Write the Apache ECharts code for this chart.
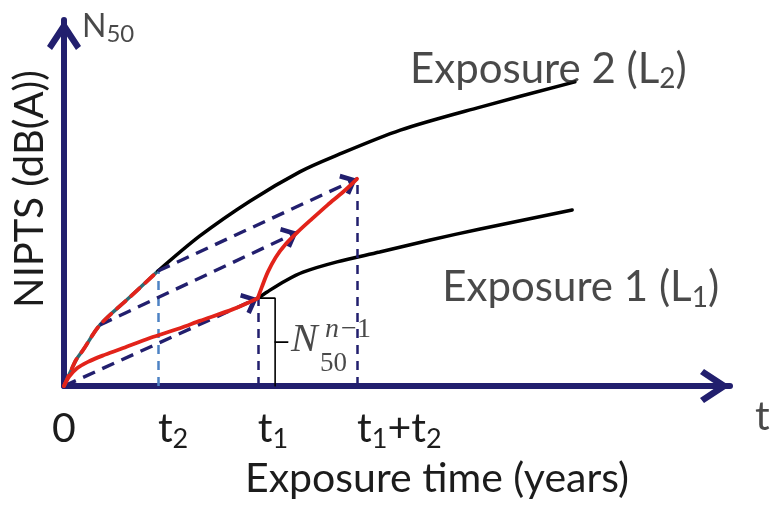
<!DOCTYPE html>
<html><head><meta charset="utf-8">
<script src="https://cdn.jsdelivr.net/npm/echarts@6/dist/echarts.min.js"></script>
<style>html,body{margin:0;padding:0;background:#fff}#c{width:775px;height:506px}</style>
</head><body><div id="c"></div>
<script>
// ---------- data (schematic units: time axis 0..100, NIPTS axis 0..100) ----------
const tickValues = [0, 14.1, 29.1, 44.0];
const tickLabels = ['0', 't2', 't1', 't1+t2'];
const exposure2 = [[0,0],[0.9,3.6],[1.8,7.1],[2.85,9.8],[5.4,16.7],[9.9,24.3],[14.1,31.4],[20.4,41.0],[27.9,50.5],[35.4,58.5],[40.4,62.6],[50.5,69.9],[62.5,76.2],[76.7,83.1]];
const exposure1Early = [[0,0],[0.8,2.6],[2.0,4.9],[3.6,6.6],[5.8,8.3],[8.5,10.1],[12.9,13.1],[17.4,15.8],[20.4,17.8],[25.4,21.0],[29.1,24.0]];
const exposure1Late = [[29.1,24.0],[30.5,25.7],[33.2,28.7],[35.9,31.1],[41.0,33.9],[47.4,36.6],[55.0,39.9],[62.5,42.9],[76.3,48.1]];
const shiftedCurve = [[29.1,24.0],[29.7,27.0],[30.6,31.1],[31.8,35.2],[33.3,38.8],[35.1,42.1],[37.2,45.6],[39.6,49.5],[41.9,53.0],[44.0,56.6]];
const shiftArrows = [[[0,0],[29.1,24.0]],[[5.4,16.7],[35.1,42.1]],[[14.1,31.4],[44.0,56.6]]];
const t2Point = [14.1, 31.4];
const t1Point = [29.1, 24.0];
const t1t2Point = [44.0, 56.6];
const n50Prev = 24.0;

// ---------- styles ----------
const NAVY = '#221f6e', RED = '#e2231a', TEAL = '#2e6c74', LIGHTBLUE = '#4d82c4', TXT = '#1c1c1c';
const FONT = 'Lato', SERIF = 'Liberation Serif';
// chevrons pointing up, tip placed at the centre of the path box
const chevronBig = 'path://M17,0 L34,26 L29,30 L17,12 L5,30 L0,26 Z M17,-30 L17,-30 Z';
const chevronSmall = 'path://M11,0 L22,13 L18.5,16 L11,7 L3.5,16 L0,13 Z M11,-16 L11,-16 Z';
const bracketX = 31.7, bracketTick = 1.9;

const exp2Early = exposure2.filter(p => p[0] <= t2Point[0]);
const exp2Late = exposure2.filter(p => p[0] >= t2Point[0]);

function richTick(s) {
  if (!/\d$/.test(s) || s === '0') return '{m|' + s + '}';
  return s.replace(/([^0-9]+)(\d)/g, (m, a, d) => '{m|' + a + '}{s|' + d + '}');
}

const noLabel = {show: false};
function lineSeries(data, color, width, type, z) {
  return {type: 'line', data: data, smooth: 0.3, showSymbol: false, symbol: 'none', silent: true,
    lineStyle: {color: color, width: width, type: type || 'solid', cap: 'round'}, z: z || 3, animation: false};
}
function markLines(pairs, color, width, dash, sym) {
  return {type: 'line', data: [], silent: true, animation: false, z: 2,
    markLine: {silent: true, animation: false, symbol: ['none', sym || 'none'], symbolSize: [23, 32],
      label: noLabel, emphasis: {disabled: true},
      lineStyle: {color: color, width: width, type: dash, opacity: 1},
      data: pairs.map(p => [{coord: p[0]}, {coord: p[1]}])}};
}
function annot(pos, formatter, rich, labelExtra) {
  return {type: 'scatter', symbolSize: 0, silent: true, animation: false, z: 10,
    data: [{value: pos}],
    label: Object.assign({show: true, position: 'right', formatter: formatter, rich: rich,
      color: TXT, fontFamily: FONT}, labelExtra)};
}
const bigRich = {
  a: {fontFamily: FONT, fontSize: 42, lineHeight: 48, verticalAlign: 'middle', color: TXT},
  s: {fontFamily: FONT, fontSize: 28, lineHeight: 24, verticalAlign: 'bottom', color: TXT}
};

const chart = echarts.init(document.getElementById('c'), null, {renderer: 'canvas'});
chart.setOption({
  backgroundColor: '#ffffff',
  animation: false,
  grid: {left: 64, right: 45, top: 20, bottom: 120, containLabel: false, outerBoundsMode: 'none'},
  xAxis: {
    type: 'value', min: 0, max: 100,
    axisLine: {show: true, onZero: false, symbol: ['none', chevronBig], symbolSize: [34, 60],
      lineStyle: {color: NAVY, width: 6}},
    axisTick: {show: false}, splitLine: {show: false},
    axisLabel: {
      customValues: tickValues, margin: 19, color: TXT, fontFamily: FONT, fontSize: 41, lineHeight: 48,
      align: 'left', alignMinLabel: 'center', hideOverlap: false, showMinLabel: true,
      formatter: v => { const i = tickValues.findIndex(t => Math.abs(t - v) < 1e-6); return i < 0 ? '' : richTick(tickLabels[i]); },
      rich: {
        m: {fontFamily: FONT, fontSize: 41, lineHeight: 48, verticalAlign: 'middle', color: TXT},
        s: {fontFamily: FONT, fontSize: 27, lineHeight: 23, verticalAlign: 'bottom', color: TXT}
      }
    },
    name: 'Exposure time (years)', nameLocation: 'middle', nameGap: 70,
    nameTextStyle: {fontFamily: FONT, fontSize: 41, color: TXT, padding: [0, 0, 0, 80]}
  },
  yAxis: {
    type: 'value', min: 0, max: 100,
    axisLine: {show: true, onZero: false, symbol: ['none', chevronBig], symbolSize: [34, 60],
      lineStyle: {color: NAVY, width: 6}},
    axisTick: {show: false}, splitLine: {show: false}, axisLabel: {show: false},
    name: 'NIPTS (dB(A))', nameLocation: 'middle', nameRotate: 90, nameGap: 14,
    nameTextStyle: {fontFamily: FONT, fontSize: 40, color: TXT, padding: [0, 0, 0, 28]}
  },
  series: [
    // vertical guides
    markLines([[[t2Point[0], 0], t2Point]], LIGHTBLUE, 2.5, [9, 7]),
    markLines([[[t1Point[0], 0], t1Point], [[t1t2Point[0], 0], t1t2Point]], NAVY, 2.5, [9, 7]),
    // shift arrows
    markLines(shiftArrows, NAVY, 3.4, [13, 8], chevronSmall),
    // curves
    lineSeries(exp2Early, TEAL, 3.5, 'solid', 4),
    lineSeries(exp2Early, RED, 3.8, [11, 8], 5),
    lineSeries(exp2Late, '#000000', 3.5, 'solid', 4),
    lineSeries(exposure1Early, RED, 3.8, 'solid', 5),
    lineSeries(shiftedCurve, RED, 3.8, 'solid', 5),
    lineSeries(exposure1Late, '#000000', 3.5, 'solid', 4),
    // bracket
    Object.assign(lineSeries([[t1Point[0], n50Prev], [bracketX, n50Prev], [bracketX, 0]], '#000000', 1.6), {smooth: false}),
    Object.assign(lineSeries([[bracketX, n50Prev / 2], [bracketX + bracketTick, n50Prev / 2]], '#000000', 1.6), {smooth: false}),
    // annotations
    annot([bracketX, n50Prev / 2], '{n|N}', {n: {fontFamily: SERIF, fontStyle: 'italic', fontSize: 40, color: TXT}}, {distance: 16, offset: [0, -2]}),
    annot([bracketX, n50Prev / 2], '{d|50}', {d: {fontFamily: SERIF, fontSize: 27, color: TXT}}, {distance: 45, offset: [0, 22]}),
    annot([bracketX, n50Prev / 2], '{i|n}{d|\u22121}', {i: {fontFamily: SERIF, fontStyle: 'italic', fontSize: 28, color: TXT}, d: {fontFamily: SERIF, fontSize: 28, color: TXT, padding: [0, 0, 0, 2]}}, {distance: 50, offset: [0, -12]}),
    annot([51.95, 86.6], '{a|Exposure 2 (L}{s|2}{a|)}', bigRich, {distance: 0}),
    annot([56.8, 26.8], '{a|Exposure 1 (L}{s|1}{a|)}', bigRich, {distance: 0}),
    annot([0, 100], '{a|N}{s|50}', {a: {fontFamily: FONT, fontSize: 32, lineHeight: 38, verticalAlign: 'middle', color: TXT}, s: {fontFamily: FONT, fontSize: 24, lineHeight: 20, verticalAlign: 'bottom', color: TXT}}, {distance: 18, offset: [0, 7]}),
    annot([100, 0], '{a|t}', {a: {fontFamily: FONT, fontSize: 41, color: TXT}}, {distance: 25, offset: [0, 31]})
  ]
});
</script>
</body></html>
